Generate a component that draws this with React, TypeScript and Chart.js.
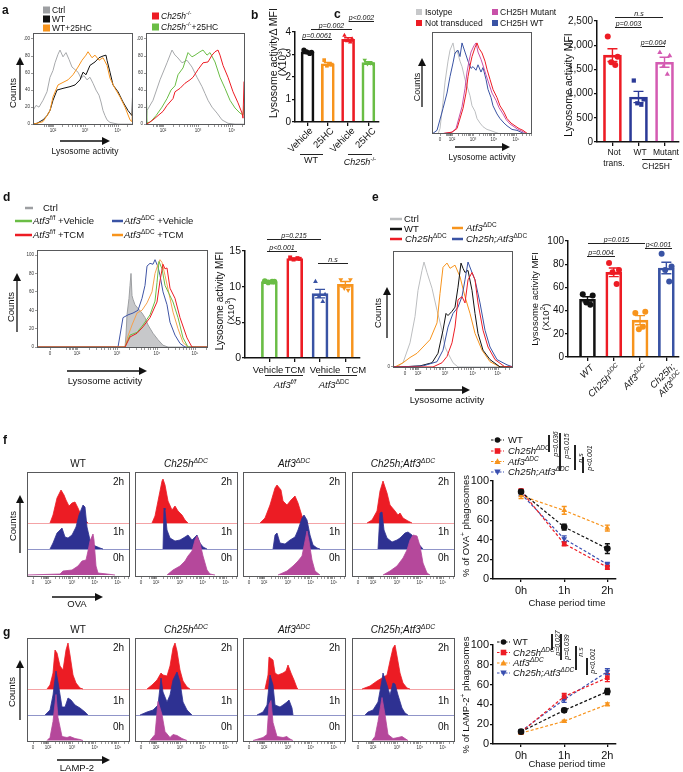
import React, { useEffect, useRef } from "react";
import { Chart, registerables } from "chart.js";

Chart.register(...registerables);

const FONT = '"Liberation Sans", Arial, Helvetica, sans-serif';

/* ======================= DATA ======================= */
// Panel a – histograms (channel, % of max)
const aL_ctrl_x = [0, 3, 6, 10, 14, 17, 20, 22, 25, 27, 30, 33, 36, 39, 42, 45, 48, 51, 54, 57, 60, 63, 66, 68, 70, 72, 74, 77, 85, 100];
const aL_ctrl_y = [16, 22, 20, 28, 38, 55, 63, 72, 82, 87, 79, 84, 76, 67, 64, 61, 54, 57, 52, 55, 48, 40, 34, 26, 16, 10, 5, 2, 0, 0];
const aL_wt_x = [0, 4, 10, 14, 17, 20, 24, 30, 37, 42, 47, 50, 53, 57, 62, 66, 70, 73, 74, 77, 80, 85, 90, 95, 99, 100];
const aL_wt_y = [0, 1, 5, 10, 16, 28, 40, 42, 44, 46, 52, 61, 58, 69, 73, 78, 80, 81, 75, 61, 46, 38, 26, 16, 10, 54];
const aL_hc_x = [0, 4, 10, 14, 17, 20, 25, 30, 35, 40, 45, 49, 53, 55, 59, 62, 66, 70, 74, 77, 82, 87, 92, 97, 99, 100];
const aL_hc_y = [0, 1, 3, 10, 16, 32, 46, 49, 52, 58, 67, 75, 81, 85, 78, 81, 75, 78, 69, 54, 42, 32, 20, 5, 3, 30];
const aR_ctrl_x = [0, 1, 7, 14, 21, 26, 29, 31, 36, 41, 46, 51, 56, 59, 62, 66, 71, 76, 82, 89, 99];
const aR_ctrl_y = [0, 16, 28, 52, 72, 87, 81, 79, 72, 75, 67, 55, 44, 36, 28, 20, 13, 5, 1, 0, 0];
const aR_ko_x = [0, 2, 7, 12, 17, 21, 27, 29, 34, 39, 44, 47, 52, 57, 62, 66, 69, 72, 74, 77, 82, 87, 92, 96, 97, 98];
const aR_ko_y = [0, 1, 5, 10, 15, 22, 30, 38, 42, 48, 52, 55, 64, 72, 73, 81, 85, 87, 81, 69, 55, 38, 25, 13, 7, 50];
const aR_kohc_x = [0, 1, 4, 10, 16, 21, 25, 29, 32, 37, 42, 46, 49, 54, 57, 61, 64, 69, 74, 79, 84, 89, 94, 97, 98];
const aR_kohc_y = [55, 2, 2, 10, 20, 30, 40, 45, 58, 66, 84, 79, 81, 85, 87, 81, 84, 73, 55, 42, 28, 19, 13, 11, 22];
const aL_ticks: [number, string][] = [[20, "10²"], [52, "10³"], [85, "10⁴"]];
const aR_ticks: [number, string][] = [[17, "10²"], [52, "10³"], [86, "10⁴"]];
const HIST_Y_TICKS = [0, 20, 40, 60, 80, 100];

// Panel b – MFI (x10^3)
const b_cats = ["Vehicle", "25HC", "Vehicle", "25HC"];
const b_wt_veh = [3.2, 3.1, 3.12, 3.05];
const b_wt_hc = [2.75, 2.55, 2.5, 2.55];
const b_ko_veh = [3.85, 3.7, 3.6, 3.55];
const b_ko_hc = [2.75, 2.6, 2.58, 2.62];
const b_yticks = [0, 1, 2, 3, 4];

// Panel c – histograms
const c_iso_x = [0, 6, 8, 11, 13, 16, 18, 21, 23, 25, 28, 30, 33, 35, 38, 40, 43, 45, 48, 51, 55, 58, 63, 68, 100];
const c_iso_y = [0, 0, 6, 35, 57, 80, 92, 100, 88, 92, 80, 74, 60, 53, 42, 31, 25, 17, 12, 8, 5, 4, 2, 0, 0];
const c_nt_x = [0, 8, 20, 25, 31, 34, 36, 38, 40, 43, 45, 47, 50, 53, 55, 58, 61, 65, 68, 72, 75, 79, 83, 87, 91, 96, 100];
const c_nt_y = [0, 0, 2, 6, 28, 45, 63, 75, 85, 95, 100, 94, 89, 80, 71, 60, 49, 40, 31, 24, 17, 12, 9, 6, 4, 0, 0];
const c_wt_x = [0, 5, 11, 15, 18, 21, 23, 26, 28, 30, 33, 36, 39, 41, 44, 46, 49, 51, 54, 56, 59, 61, 65, 68, 72, 75, 80, 85, 93, 100];
const c_wt_y = [0, 4, 28, 45, 63, 78, 89, 92, 85, 100, 90, 80, 72, 74, 70, 76, 68, 73, 60, 49, 40, 31, 22, 17, 12, 9, 5, 4, 0, 0];
const c_mut_x = [0, 8, 20, 24, 30, 33, 35, 37, 39, 42, 44, 46, 49, 52, 54, 57, 60, 64, 67, 71, 74, 78, 82, 86, 90, 95, 100];
const c_mut_y = [0, 0, 2, 6, 30, 50, 68, 80, 90, 97, 100, 90, 82, 72, 65, 55, 45, 37, 29, 22, 16, 11, 8, 5, 3, 0, 0];
const c_ticks: [number, string][] = [[8, "0"], [20, "10²"], [41, "10³"], [62, "10⁴"], [84, "10⁵"]];
// Panel c – MFI
const c_nt = [2180, 1760, 1650, 1590];
const c_wt = [1270, 880, 800, 770];
const c_mut = [1850, 1780, 1560, 1400];
const c_yticks = [0, 500, 1000, 1500, 2000, 2500];

// Panel d – histograms
const d_ctrl_x = [0, 88, 89, 90, 92, 93, 94, 95, 96, 98, 101, 105, 108, 111, 116, 121, 126, 131, 171];
const d_ctrl_y = [0, 0, 13, 35, 53, 67, 80, 56, 52, 46, 42, 37, 32, 24, 15, 8, 2, 0, 0];
const d_fv_x = [0, 88, 93, 100, 106, 113, 118, 120, 122, 125, 128, 132, 136, 141, 146, 151, 171];
const d_fv_y = [0, 0, 13, 16, 24, 35, 50, 70, 93, 85, 67, 58, 49, 32, 10, 0, 0];
const d_ft_x = [0, 88, 93, 100, 106, 113, 120, 123, 126, 128, 130, 133, 138, 143, 150, 155, 171];
const d_ft_y = [0, 0, 11, 15, 22, 32, 49, 72, 90, 85, 86, 64, 53, 32, 10, 0, 0];
const d_kv_x = [0, 81, 86, 91, 96, 101, 105, 108, 110, 113, 116, 118, 121, 123, 126, 130, 133, 138, 143, 148, 171];
const d_kv_y = [0, 0, 32, 35, 37, 40, 53, 67, 88, 91, 90, 95, 87, 78, 60, 46, 27, 13, 4, 0, 0];
const d_kt_x = [0, 88, 91, 95, 100, 105, 110, 115, 118, 121, 123, 125, 128, 133, 136, 141, 146, 151, 171];
const d_kt_y = [0, 0, 12, 24, 37, 40, 48, 60, 80, 90, 95, 92, 78, 53, 38, 20, 5, 0, 0];
const d_ticks: [number, string][] = [[13, "0"], [40, "10²"], [80, "10³"], [120, "10⁴"], [158, "10⁵"]];
// Panel d – MFI (x10^3)
const d_fv = [10.8, 10.7, 10.6, 10.7];
const d_ft = [14.1, 13.9, 13.8, 14.0];
const d_kv = [10.7, 8.9, 8.6, 7.9];
const d_kt = [11.0, 11.0, 9.8, 9.5];
const d_yticks = [0, 5, 10, 15];

// Panel e – histograms
const e_ctrl_x = [0, 4, 10, 17, 22, 25, 29, 31, 34, 39, 44, 49, 52, 55, 60, 65, 120];
const e_ctrl_y = [0, 0, 4, 23, 48, 73, 92, 100, 90, 75, 54, 35, 19, 13, 4, 0, 0];
const e_wt_x = [0, 7, 27, 39, 45, 50, 53, 55, 59, 62, 65, 68, 70, 72, 75, 79, 82, 85, 90, 97, 107, 120];
const e_wt_y = [0, 0, 1, 4, 13, 35, 51, 49, 53, 57, 76, 99, 94, 90, 92, 73, 51, 32, 16, 7, 0, 0];
const e_ko_x = [0, 40, 49, 54, 59, 62, 65, 69, 72, 75, 79, 82, 85, 90, 95, 102, 112, 120];
const e_ko_y = [0, 0, 4, 10, 23, 38, 64, 67, 61, 83, 90, 83, 61, 35, 19, 7, 0, 0];
const e_atf_x = [0, 2, 10, 17, 24, 30, 37, 44, 47, 50, 54, 57, 62, 67, 72, 77, 82, 89, 97, 107, 120];
const e_atf_y = [0, 0, 4, 9, 13, 19, 26, 42, 70, 95, 99, 94, 97, 86, 67, 51, 32, 16, 5, 0, 0];
const e_dko_x = [0, 7, 30, 44, 50, 55, 60, 65, 69, 72, 75, 79, 82, 87, 92, 97, 104, 114, 120];
const e_dko_y = [0, 0, 1, 5, 16, 38, 51, 57, 67, 83, 100, 90, 83, 61, 35, 19, 7, 2, 0];
const e_ticks: [number, string][] = [[12, "0"], [25, "10²"], [52, "10³"], [80, "10⁴"], [105, "10⁵"]];
// Panel e – MFI (x10^2)
const e_wt = [54, 53, 47, 45];
const e_ko = [81, 75, 73, 63];
const e_atf = [38, 39, 24, 26];
const e_dko = [89, 78, 75, 65];
const e_yticks = [0, 20, 40, 60, 80, 100];

// Panel f – OVA stacked histograms (channel, height)
const f_wt_2h_x = [23, 26, 30, 34, 37, 39, 42, 45, 48, 51, 54, 58, 61];
const f_wt_2h_y = [0, 8, 25, 33, 28, 23, 17, 20, 21, 15, 8, 3, 0];
const f_wt_1h_x = [23, 26, 30, 35, 38, 41, 45, 49, 52, 56, 58, 60, 63, 66, 73, 76];
const f_wt_1h_y = [0, 6, 16, 21, 12, 11, 14, 22, 34, 44, 42, 22, 9, 4, 1, 0];
const f_wt_0h_x = [0, 33, 36, 45, 51, 55, 59, 61, 63, 66, 67, 69, 71, 80, 88];
const f_wt_0h_y = [0, 1, 4, 5, 9, 14, 15, 24, 34, 41, 35, 9, 2, 1, 0];
const f_ch_2h_x = [17, 20, 24, 27, 28, 30, 33, 37, 40, 43, 47, 50, 53];
const f_ch_2h_y = [0, 7, 27, 42, 44, 38, 22, 13, 17, 12, 8, 3, 0];
const f_ch_1h_x = [28, 29, 30, 32, 35, 40, 45, 50, 53, 57, 60, 62, 65, 68, 72];
const f_ch_1h_y = [0, 41, 39, 19, 11, 8, 9, 12, 14, 9, 12, 14, 6, 2, 0];
const f_ch_0h_x = [32, 38, 45, 50, 53, 57, 60, 62, 65, 68, 72, 75, 80];
const f_ch_0h_y = [0, 5, 9, 14, 19, 24, 35, 39, 32, 19, 5, 1, 0];
const f_at_2h_x = [17, 22, 27, 32, 34, 38, 40, 44, 48, 52, 55, 59, 62, 65];
const f_at_2h_y = [0, 5, 18, 35, 38, 33, 22, 18, 23, 27, 20, 7, 2, 0];
const f_at_1h_x = [30, 32, 34, 37, 42, 47, 52, 55, 59, 61, 64, 67, 70, 74, 77];
const f_at_1h_y = [0, 14, 16, 6, 5, 9, 12, 19, 31, 34, 29, 14, 4, 1, 0];
const f_at_0h_x = [35, 44, 50, 55, 59, 61, 64, 66, 69, 72, 77];
const f_at_0h_y = [0, 4, 9, 14, 19, 29, 44, 34, 15, 4, 0];
const f_dk_2h_x = [15, 20, 25, 28, 31, 35, 38, 43, 46, 48, 51, 56, 60];
const f_dk_2h_y = [0, 3, 12, 32, 42, 30, 18, 12, 8, 10, 5, 2, 0];
const f_dk_1h_x = [26, 28, 30, 32, 35, 40, 45, 48, 53, 56, 60, 64, 71];
const f_dk_1h_y = [0, 36, 37, 19, 11, 7, 9, 11, 16, 17, 14, 8, 0];
const f_dk_0h_x = [31, 38, 45, 51, 55, 58, 61, 65, 68, 71, 75, 78];
const f_dk_0h_y = [0, 4, 9, 17, 25, 35, 40, 39, 29, 12, 2, 0];

// Panel g – LAMP-2 stacked histograms
const g_wt_2h_x = [20, 23, 26, 28, 30, 33, 36, 39, 41, 43, 46, 49, 53, 56];
const g_wt_2h_y = [0, 4, 16, 39, 36, 23, 19, 39, 46, 34, 14, 6, 1, 0];
const g_wt_1h_x = [18, 23, 26, 29, 31, 35, 38, 41, 44, 48, 53, 58, 61];
const g_wt_1h_y = [0, 5, 20, 44, 33, 8, 8, 17, 15, 10, 7, 3, 0];
const g_wt_0h_x = [20, 23, 26, 29, 31, 35, 40, 43, 48, 53, 56];
const g_wt_0h_y = [0, 3, 19, 46, 23, 4, 3, 4, 2, 1, 0];
const g_ch_2h_x = [12, 17, 22, 26, 28, 32, 35, 38, 40, 42, 45, 48, 52, 55];
const g_ch_2h_y = [0, 4, 9, 16, 14, 13, 23, 41, 46, 38, 19, 8, 2, 0];
const g_ch_1h_x = [5, 12, 18, 23, 26, 28, 32, 35, 38, 42, 45, 48, 52, 57];
const g_ch_1h_y = [0, 3, 5, 10, 37, 23, 13, 20, 35, 43, 33, 13, 5, 0];
const g_ch_0h_x = [15, 20, 23, 27, 30, 35, 38, 42, 47, 52];
const g_ch_0h_y = [0, 6, 39, 26, 9, 3, 6, 5, 2, 0];
const g_at_2h_x = [22, 25, 26, 30, 32, 35, 40, 43, 45, 48, 51, 54, 55];
const g_at_2h_y = [0, 14, 32, 29, 16, 14, 16, 18, 24, 16, 9, 1, 0];
const g_at_1h_x = [14, 20, 24, 27, 30, 32, 37, 40, 44, 46, 49, 50];
const g_at_1h_y = [0, 3, 10, 40, 30, 10, 8, 10, 13, 15, 7, 0];
const g_at_0h_x = [10, 20, 24, 26, 28, 30, 34, 40, 44, 46, 50];
const g_at_0h_y = [0, 3, 6, 36, 40, 18, 4, 3, 4, 2, 0];
const g_dk_2h_x = [10, 18, 25, 30, 35, 38, 41, 43, 45, 48, 51, 55, 58];
const g_dk_2h_y = [0, 3, 8, 11, 14, 28, 41, 44, 33, 16, 6, 1, 0];
const g_dk_1h_x = [13, 16, 21, 26, 30, 31, 35, 38, 41, 43, 46, 50, 53, 56];
const g_dk_1h_y = [0, 3, 5, 13, 35, 42, 30, 20, 32, 31, 20, 7, 2, 0];
const g_dk_0h_x = [20, 23, 26, 30, 33, 36, 41, 46, 50, 53, 56];
const g_dk_0h_y = [0, 4, 19, 43, 26, 6, 2, 3, 4, 2, 0];
const fg_ticks: [number, string][] = [[6, "0"], [21, "10²"], [45, "10³"], [68, "10⁴"], [91, "10⁵"]];

// Panels f/g – line charts
const CHASE = ["0h", "1h", "2h"];
const f_wt = [89, 53, 31];
const f_ch = [90, 36, 12];
const f_at = [85, 70, 52];
const f_dk = [87, 41, 15];
const f_wt_se = [2, 3, 5];
const f_ch_se = [2, 2, 2];
const f_at_se = [3, 4, 3];
const f_dk_se = [2, 3, 2];
const g_wt = [12.5, 34, 53];
const g_ch = [12, 48, 67];
const g_at = [11, 23, 40];
const g_dk = [13, 45, 73];
const g_wt_se = [1.5, 2, 3];
const g_ch_se = [1, 3, 4];
const g_at_se = [1, 1, 1.5];
const g_dk_se = [1, 3, 3];
const LINE_YTICKS = [0, 20, 40, 60, 80, 100];

/* ======================= HELPERS ======================= */
const mean = (a: number[]) => a.reduce((s, v) => s + v, 0) / a.length;
const sem = (a: number[]) => {
  const m = mean(a);
  return Math.sqrt(a.reduce((s, v) => s + (v - m) ** 2, 0) / (a.length - 1)) / Math.sqrt(a.length);
};
const JIT = [-0.2, 0.22, -0.05, 0.12];

const fixX = (h: number) => (s: any) => { s.height = h; s.paddingLeft = 0; s.paddingRight = 0; };
const fixY = (w: number) => (s: any) => { s.width = w; s.paddingTop = 0; s.paddingBottom = 0; };

function logMinors(maj: number[], xMax: number) {
  const out: number[] = [];
  const last = maj[maj.length - 1];
  const d = last - maj[maj.length - 2];
  const ext = [...maj, last + d];
  for (let i = 0; i < ext.length - 1; i++) {
    const w = ext[i + 1] - ext[i];
    for (let k = 2; k <= 9; k++) out.push(ext[i] + w * Math.log10(k));
  }
  if (ext[ext.length - 1] < xMax) out.push(ext[ext.length - 1]);
  const w0 = maj[1] - maj[0];
  for (let k = 3; k <= 9; k++) out.push(maj[0] - w0 * 0.5 * (1 - Math.log10(k)));
  return out.filter((v) => v > 0 && v < xMax);
}

const framePlugin = (color: string) => ({
  id: "frame",
  afterDatasetsDraw(chart: any) {
    const { ctx, chartArea: a } = chart;
    ctx.save();
    ctx.strokeStyle = color;
    ctx.lineWidth = 1;
    ctx.strokeRect(a.left + 0.5, a.top + 0.5, a.right - a.left - 1, a.bottom - a.top - 1);
    ctx.restore();
  },
});

const basePlugin = (lines: [number, string][]) => ({
  id: "bases",
  beforeDatasetsDraw(chart: any) {
    const { ctx, chartArea: a, scales } = chart;
    ctx.save();
    ctx.lineWidth = 1;
    lines.forEach(([v, c]) => {
      const py = Math.round(scales.y.getPixelForValue(v)) + 0.5;
      ctx.strokeStyle = c;
      ctx.beginPath();
      ctx.moveTo(a.left, py);
      ctx.lineTo(a.right, py);
      ctx.stroke();
    });
    ctx.restore();
  },
});

const errPlugin = (items: any[], cap: number) => ({
  id: "err",
  beforeDatasetsDraw(chart: any) {
    const { ctx, scales } = chart;
    ctx.save();
    ctx.lineWidth = 1.4;
    items.forEach((it) => {
      const px = scales.x.getPixelForValue(it.x);
      const a = scales.y.getPixelForValue(it.m + it.e);
      const b = scales.y.getPixelForValue(it.m - it.e);
      ctx.strokeStyle = it.c;
      ctx.beginPath();
      ctx.moveTo(px, a); ctx.lineTo(px, b);
      ctx.moveTo(px - cap, a); ctx.lineTo(px + cap, a);
      ctx.moveTo(px - cap, b); ctx.lineTo(px + cap, b);
      ctx.stroke();
    });
    ctx.restore();
  },
});

function histCfg(p: any) {
  const lbl = new Map<number, string>(p.majors);
  const logMaj = p.majors.filter((m: any) => m[1] !== "0").map((m: any) => m[0]);
  const xt = [...p.majors.map((m: any) => m[0]), ...logMinors(logMaj, p.xMax)];
  const tickGrid = { drawOnChartArea: false, drawTicks: true, tickLength: 2, color: "#555", lineWidth: 0.6 };
  const tickFont = { size: 4.5, family: FONT };
  return {
    type: "line",
    data: {
      datasets: p.series.map((s: any) => ({
        data: s.x.map((x: number, i: number) => ({ x, y: s.y[i] + (s.base || 0) })),
        borderColor: s.color,
        borderWidth: s.w ?? 1,
        pointRadius: 0,
        tension: 0,
        fill: s.fill ? { value: s.base || 0 } : false,
        backgroundColor: s.fill || "transparent",
      })),
    },
    options: {
      scales: {
        x: {
          type: "linear", min: 0, max: p.xMax,
          afterBuildTicks: (s: any) => { s.ticks = xt.map((v) => ({ value: v })); },
          ticks: { autoSkip: false, maxRotation: 0, minRotation: 0, padding: 1, color: "#333", font: tickFont, callback: (v: number) => lbl.get(v) ?? "" },
          grid: tickGrid, border: { display: false }, afterFit: fixX(p.xH),
        },
        y: {
          type: "linear", min: p.yMin, max: p.yMax, display: !!p.yTicks,
          afterBuildTicks: (s: any) => { s.ticks = (p.yTicks || [0]).map((v: number) => ({ value: v })); },
          ticks: { padding: 1, color: "#333", font: tickFont },
          grid: tickGrid, border: { display: false }, afterFit: fixY(p.yW),
        },
      },
    },
    plugins: [basePlugin(p.bases || []), framePlugin("#58595b")],
  };
}

function barCfg(p: any) {
  const means = p.pts.map(mean);
  const sems = p.pts.map(sem);
  const axisGrid = { drawOnChartArea: false, drawTicks: true, tickLength: 4, color: "#111", lineWidth: 1.3 };
  const ds: any[] = [{
    type: "bar",
    data: means.map((m: number, i: number) => ({ x: i, y: m })),
    backgroundColor: "rgba(255,255,255,0)",
    borderColor: p.colors,
    borderWidth: 2,
    barThickness: p.barW,
    borderSkipped: "bottom",
    order: 3,
  }];
  p.pts.forEach((g: number[], i: number) =>
    ds.push({
      type: "scatter",
      data: g.map((v, j) => ({ x: i + JIT[j] * p.spread, y: v })),
      pointStyle: p.shapes[i],
      rotation: p.rots[i],
      pointRadius: p.r,
      backgroundColor: p.colors[i],
      borderColor: p.colors[i],
      borderWidth: 0,
      order: 1,
    })
  );
  return {
    type: "bar",
    data: { datasets: ds },
    options: {
      scales: {
        x: {
          type: "linear", min: p.xMin, max: p.xMax, offset: false,
          afterBuildTicks: (s: any) => { s.ticks = p.pts.map((_: any, i: number) => ({ value: i })); },
          ticks: { callback: () => "", padding: 0, font: { size: 2 } },
          grid: { ...axisGrid, offset: false },
          border: { display: true, color: "#111", width: 1.5 },
          afterFit: fixX(p.xH),
        },
        y: {
          type: "linear", min: 0, max: p.yMax,
          afterBuildTicks: (s: any) => { s.ticks = p.yTicks.map((v: number) => ({ value: v })); },
          ticks: { padding: 1, color: "#111", font: { size: p.fs, family: FONT } },
          grid: { ...axisGrid, tickLength: 3 },
          border: { display: true, color: "#111", width: 1.5 },
          afterFit: fixY(p.yW),
        },
      },
    },
    plugins: [errPlugin(means.map((m: number, i: number) => ({ x: i, m, e: sems[i], c: p.colors[i] })), p.cap)],
  };
}

function lineCfg(series: any[], xH: number, yW: number) {
  const axisGrid = { drawOnChartArea: false, drawTicks: true, tickLength: 3, color: "#111", lineWidth: 1.3 };
  const font = { size: 11, family: FONT };
  return {
    type: "line",
    data: {
      datasets: series.map((s) => ({
        data: s.v.map((y: number, i: number) => ({ x: i, y })),
        borderColor: s.c, borderDash: [3, 2], borderWidth: 1.2,
        pointStyle: s.shape, rotation: s.rot, pointRadius: 3.3,
        pointBackgroundColor: s.c, pointBorderColor: s.c, pointBorderWidth: 0,
        tension: 0, fill: false,
      })),
    },
    options: {
      scales: {
        x: {
          type: "linear", min: -0.65, max: 2.2,
          afterBuildTicks: (s: any) => { s.ticks = CHASE.map((_, i) => ({ value: i })); },
          ticks: { autoSkip: false, maxRotation: 0, padding: 2, color: "#111", font, callback: (v: number) => CHASE[v] ?? "" },
          grid: axisGrid, border: { display: true, color: "#111", width: 1.5 }, afterFit: fixX(xH),
        },
        y: {
          type: "linear", min: 0, max: 100,
          afterBuildTicks: (s: any) => { s.ticks = LINE_YTICKS.map((v) => ({ value: v })); },
          ticks: { padding: 1, color: "#111", font },
          grid: axisGrid, border: { display: true, color: "#111", width: 1.5 }, afterFit: fixY(yW),
        },
      },
    },
    plugins: [errPlugin(series.flatMap((s) => s.v.map((m: number, i: number) => ({ x: i, m, e: s.se[i], c: s.c }))), 2.5)],
  };
}

function ChartCanvas({ f, yW = 0, xH = 0, pt = 0, pr = 0, cfg }: any) {
  const ref = useRef<HTMLCanvasElement>(null);
  const w = f.r - f.l + yW + pr;
  const h = f.b - f.t + pt + xH;
  useEffect(() => {
    const c: any = cfg();
    c.options = c.options || {};
    c.options.responsive = false;
    c.options.maintainAspectRatio = false;
    c.options.animation = false;
    c.options.devicePixelRatio = 1;
    c.options.events = [];
    c.options.layout = { padding: { top: pt, right: pr, left: 0, bottom: 0 } };
    c.options.plugins = { legend: { display: false }, tooltip: { enabled: false } };
    const chart = new Chart(ref.current as HTMLCanvasElement, c);
    return () => chart.destroy();
  }, []);
  return <canvas ref={ref} width={w} height={h} style={{ position: "absolute", left: f.l - yW, top: f.t - pt, width: w, height: h }} />;
}

const Sup = ({ children }: any) => (
  <sup style={{ fontSize: "0.68em", lineHeight: 0, verticalAlign: "super" }}>{children}</sup>
);

function Txt(props: any) {
  const { x, y, s = 10, a = "l", rot = 0, b = false, it = false, c = "#111", children } = props;
  const ax = a === "l" ? 0 : a === "c" ? 50 : 100;
  return (
    <div
      style={{
        position: "absolute", left: x, top: y, fontSize: s, fontFamily: FONT,
        fontWeight: b ? 700 : 400, fontStyle: it ? "italic" : "normal", color: c,
        whiteSpace: "nowrap", lineHeight: 1,
        transform: `translate(${-ax}%,-50%)${rot ? ` rotate(${rot}deg)` : ""}`,
        transformOrigin: `${ax}% 50%`,
      }}
    >
      {children}
    </div>
  );
}

function HLine({ x1, x2, y, w = 1, c = "#222" }: any) {
  return <div style={{ position: "absolute", left: x1, top: y - w / 2, width: x2 - x1, height: w, background: c }} />;
}
function VLine({ x, y1, y2, w = 1.2, c = "#222" }: any) {
  return <div style={{ position: "absolute", left: x - w / 2, top: y1, width: w, height: y2 - y1, background: c }} />;
}
function SigH({ x1, x2, y, t }: any) {
  return (
    <>
      <HLine x1={x1} x2={x2} y={y} />
      <Txt x={(x1 + x2) / 2} y={y - 4.5} a="c" s={7} it>{t}</Txt>
    </>
  );
}
function SigV({ x, y1, y2, tx, ty, t }: any) {
  return (
    <>
      <VLine x={x} y1={y1} y2={y2} w={1.4} />
      <Txt x={tx} y={ty} a="c" s={7} it rot={-90}>{t}</Txt>
    </>
  );
}

function Arrow({ x1, y1, x2, y2 }: any) {
  const dx = x2 - x1, dy = y2 - y1;
  const L = Math.hypot(dx, dy);
  const ux = dx / L, uy = dy / L;
  const hl = 8, hw = 4;
  const bx = x2 - ux * hl, by = y2 - uy * hl;
  const pts = `${x2},${y2} ${bx - uy * hw},${by + ux * hw} ${bx + uy * hw},${by - ux * hw}`;
  return (
    <g>
      <line x1={x1} y1={y1} x2={bx} y2={by} stroke="#111" strokeWidth={1.3} />
      <polygon points={pts} fill="#111" />
    </g>
  );
}

function Marker({ x, y, c, shape }: any) {
  if (shape === "circle") return <circle cx={x} cy={y} r={2.8} fill={c} />;
  if (shape === "rect") return <rect x={x - 2.8} y={y - 2.8} width={5.6} height={5.6} fill={c} />;
  if (shape === "tri") return <polygon points={`${x},${y - 3.2} ${x + 3.2},${y + 2.4} ${x - 3.2},${y + 2.4}`} fill={c} />;
  return <polygon points={`${x},${y + 3.2} ${x + 3.2},${y - 2.4} ${x - 3.2},${y - 2.4}`} fill={c} />;
}

/* ======================= COLOURS ======================= */
const GRAY = "#a7a9ac";
const BLACK = "#111111";
const ORANGE = "#f7941d";
const RED = "#ed1c24";
const GREEN = "#6abd45";
const BLUE = "#3953a4";
const MAG = "#c850a8";
const F_RED = "#ec1c24";
const F_BLUE = "#2e3192";
const F_MAG = "#b5489b";

const LINE_SERIES_STYLE = [
  { c: BLACK, shape: "circle", rot: 0, m: "circle" },
  { c: RED, shape: "rect", rot: 0, m: "rect" },
  { c: ORANGE, shape: "triangle", rot: 0, m: "tri" },
  { c: "#3a4fb0", shape: "triangle", rot: 180, m: "tridown" },
];

const FL = [27, 135, 243, 352];
const F_SETS = [
  [[f_wt_2h_x, f_wt_2h_y], [f_wt_1h_x, f_wt_1h_y], [f_wt_0h_x, f_wt_0h_y]],
  [[f_ch_2h_x, f_ch_2h_y], [f_ch_1h_x, f_ch_1h_y], [f_ch_0h_x, f_ch_0h_y]],
  [[f_at_2h_x, f_at_2h_y], [f_at_1h_x, f_at_1h_y], [f_at_0h_x, f_at_0h_y]],
  [[f_dk_2h_x, f_dk_2h_y], [f_dk_1h_x, f_dk_1h_y], [f_dk_0h_x, f_dk_0h_y]],
];
const G_SETS = [
  [[g_wt_2h_x, g_wt_2h_y], [g_wt_1h_x, g_wt_1h_y], [g_wt_0h_x, g_wt_0h_y]],
  [[g_ch_2h_x, g_ch_2h_y], [g_ch_1h_x, g_ch_1h_y], [g_ch_0h_x, g_ch_0h_y]],
  [[g_at_2h_x, g_at_2h_y], [g_at_1h_x, g_at_1h_y], [g_at_0h_x, g_at_0h_y]],
  [[g_dk_2h_x, g_dk_2h_y], [g_dk_1h_x, g_dk_1h_y], [g_dk_0h_x, g_dk_0h_y]],
];

function stackCfg(set: any[], bases: number[], yMax: number) {
  const cols = [F_RED, F_BLUE, F_MAG];
  const rows = [2, 1, 0].map((r) => ({ x: set[r][0], y: set[r][1], base: bases[r], color: cols[r], fill: cols[r], w: 0.8 }));
  return histCfg({
    series: rows, xMax: 103, yMin: 0, yMax, majors: fg_ticks, xH: 12, yW: 0,
    bases: [[bases[0], "#f4a3a6"], [bases[1], "#9095c9"]],
  });
}

const TITLES = [
  <>WT</>,
  <i>Ch25h<Sup>ΔDC</Sup></i>,
  <i>Atf3<Sup>ΔDC</Sup></i>,
  <i>Ch25h;Atf3<Sup>ΔDC</Sup></i>,
];
const LEG_LABELS = [
  <>WT</>,
  <i>Ch25h<Sup>ΔDC</Sup></i>,
  <i>Atf3<Sup>ΔDC</Sup></i>,
  <i>Ch25h;Atf3<Sup>ΔDC</Sup></i>,
];

/* ======================= APP ======================= */
export default function App() {
  const fLineSeries = [f_wt, f_ch, f_at, f_dk].map((v, i) => ({ v, se: [f_wt_se, f_ch_se, f_at_se, f_dk_se][i], ...LINE_SERIES_STYLE[i] }));
  const gLineSeries = [g_wt, g_ch, g_at, g_dk].map((v, i) => ({ v, se: [g_wt_se, g_ch_se, g_at_se, g_dk_se][i], ...LINE_SERIES_STYLE[i] }));

  return (
    <div style={{ position: "absolute", left: 0, top: 0, width: 683, height: 772, background: "#fff", overflow: "hidden", fontFamily: FONT }}>
      {/* ---------- a ---------- */}
      <ChartCanvas f={{ l: 33, t: 33, r: 133, b: 125 }} yW={9} xH={12} pt={3} cfg={() => histCfg({
        series: [
          { x: aL_hc_x, y: aL_hc_y, color: ORANGE },
          { x: aL_wt_x, y: aL_wt_y, color: BLACK },
          { x: aL_ctrl_x, y: aL_ctrl_y, color: GRAY },
        ], xMax: 100, yMin: -1, yMax: 107, majors: aL_ticks, yTicks: HIST_Y_TICKS, xH: 12, yW: 9,
      })} />
      <ChartCanvas f={{ l: 146, t: 33, r: 245, b: 125 }} yW={9} xH={12} pt={3} cfg={() => histCfg({
        series: [
          { x: aR_ko_x, y: aR_ko_y, color: RED },
          { x: aR_kohc_x, y: aR_kohc_y, color: GREEN },
          { x: aR_ctrl_x, y: aR_ctrl_y, color: GRAY },
        ], xMax: 99, yMin: -1, yMax: 107, majors: aR_ticks, yTicks: HIST_Y_TICKS, xH: 12, yW: 9,
      })} />

      {/* ---------- b ---------- */}
      <ChartCanvas f={{ l: 295, t: 32, r: 382, b: 122 }} yW={22} xH={6} pt={6} pr={1} cfg={() => barCfg({
        pts: [b_wt_veh, b_wt_hc, b_ko_veh, b_ko_hc], colors: [BLACK, ORANGE, RED, GREEN],
        shapes: ["circle", "rect", "triangle", "triangle"], rots: [0, 0, 0, 180], r: 2.6, spread: 0.9,
        yMax: 4, yTicks: b_yticks, xMin: -0.619, xMax: 3.524, barW: 13, yW: 22, xH: 6, fs: 10, cap: 4,
      })} />

      {/* ---------- c ---------- */}
      <ChartCanvas f={{ l: 432, t: 32, r: 532, b: 134 }} yW={0} xH={12} pt={1} cfg={() => histCfg({
        series: [
          { x: c_nt_x, y: c_nt_y, color: RED },
          { x: c_mut_x, y: c_mut_y, color: MAG },
          { x: c_wt_x, y: c_wt_y, color: BLUE },
          { x: c_iso_x, y: c_iso_y, color: "#bcbec0" },
        ], xMax: 100, yMin: 0, yMax: 112, majors: c_ticks, xH: 12, yW: 0,
      })} />
      <ChartCanvas f={{ l: 597, t: 21, r: 682, b: 142 }} yW={32} xH={6} pt={6} pr={1} cfg={() => barCfg({
        pts: [c_nt, c_wt, c_mut], colors: [RED, "#2b3a97", "#d45bb2"],
        shapes: ["circle", "rect", "triangle"], rots: [0, 0, 0], r: 3, spread: 0.9,
        yMax: 2500, yTicks: c_yticks, xMin: -0.593, xMax: 2.556, barW: 18, yW: 32, xH: 6, fs: 10, cap: 5,
      })} />

      {/* ---------- d ---------- */}
      <ChartCanvas f={{ l: 37, t: 250, r: 208, b: 348 }} yW={11} xH={12} pt={3} cfg={() => histCfg({
        series: [
          { x: d_ft_x, y: d_ft_y, color: RED },
          { x: d_fv_x, y: d_fv_y, color: GREEN },
          { x: d_kt_x, y: d_kt_y, color: "#f6a04d" },
          { x: d_kv_x, y: d_kv_y, color: "#3f54a5" },
          { x: d_ctrl_x, y: d_ctrl_y, color: "#9d9fa2", fill: "#c7c8ca" },
        ], xMax: 171, yMin: -1, yMax: 105.5, majors: d_ticks, yTicks: HIST_Y_TICKS, xH: 12, yW: 11,
      })} />
      <ChartCanvas f={{ l: 245, t: 251, r: 363, b: 358 }} yW={20} xH={6} pt={6} pr={1} cfg={() => barCfg({
        pts: [d_fv, d_ft, d_kv, d_kt], colors: [GREEN, RED, BLUE, ORANGE],
        shapes: ["circle", "rect", "triangle", "triangle"], rots: [0, 0, 0, 180], r: 2.8, spread: 0.9,
        yMax: 15, yTicks: d_yticks, xMin: -0.962, xMax: 3.577, barW: 16, yW: 20, xH: 6, fs: 10.5, cap: 5,
      })} />

      {/* ---------- e ---------- */}
      <ChartCanvas f={{ l: 393, t: 251, r: 513, b: 368 }} yW={8} xH={12} pt={2} cfg={() => histCfg({
        series: [
          { x: e_ko_x, y: e_ko_y, color: RED },
          { x: e_dko_x, y: e_dko_y, color: BLUE },
          { x: e_wt_x, y: e_wt_y, color: BLACK },
          { x: e_atf_x, y: e_atf_y, color: ORANGE },
          { x: e_ctrl_x, y: e_ctrl_y, color: "#bcbec0" },
        ], xMax: 120, yMin: -1, yMax: 110.5, majors: e_ticks, yTicks: [0], xH: 12, yW: 8,
      })} />
      <ChartCanvas f={{ l: 568, t: 241, r: 682, b: 357 }} yW={26} xH={6} pt={6} pr={1} cfg={() => barCfg({
        pts: [e_wt, e_ko, e_atf, e_dko], colors: [BLACK, RED, ORANGE, BLUE],
        shapes: ["circle", "circle", "circle", "circle"], rots: [0, 0, 0, 0], r: 3, spread: 0.9,
        yMax: 100, yTicks: e_yticks, xMin: -0.741, xMax: 3.481, barW: 16, yW: 26, xH: 6, fs: 10, cap: 5,
      })} />

      {/* ---------- f & g histogram stacks ---------- */}
      {FL.map((l, i) => (
        <ChartCanvas key={"f" + i} f={{ l, t: 472, r: l + 103, b: 577 }} yW={0} xH={12} cfg={() => stackCfg(F_SETS[i], [54, 28, 2], 105)} />
      ))}
      {FL.map((l, i) => (
        <ChartCanvas key={"g" + i} f={{ l, t: 638, r: l + 103, b: 742 }} yW={0} xH={12} cfg={() => stackCfg(G_SETS[i], [53, 27, 1.5], 104)} />
      ))}

      {/* ---------- f & g line charts ---------- */}
      <ChartCanvas f={{ l: 493, t: 481, r: 620, b: 579 }} yW={28} xH={16} pt={6} cfg={() => lineCfg(fLineSeries, 16, 28)} />
      <ChartCanvas f={{ l: 493, t: 645, r: 620, b: 744 }} yW={28} xH={16} pt={6} cfg={() => lineCfg(gLineSeries, 16, 28)} />

      {/* ---------- SVG decorations ---------- */}
      <svg width={683} height={772} style={{ position: "absolute", left: 0, top: 0, pointerEvents: "none" }}>
        {[[20, 100, 20, 57], [60, 141, 110, 141], [422, 107, 422, 58], [455, 147, 510, 147], [17, 332, 17, 273], [67, 371, 147, 371],
          [387, 338, 387, 287], [415, 390, 470, 390], [20, 553, 20, 495], [52, 597, 103, 597], [20, 720, 20, 660], [57, 760, 110, 760]].map((a, i) => (
          <Arrow key={i} x1={a[0]} y1={a[1]} x2={a[2]} y2={a[3]} />
        ))}
        {/* a legends */}
        <rect x={43} y={6.5} width={7} height={7} fill="#9d9fa2" />
        <rect x={43} y={15.5} width={7} height={7} fill={BLACK} />
        <rect x={43} y={24.5} width={7} height={7} fill={ORANGE} />
        <rect x={152} y={12.5} width={7} height={7} fill={RED} />
        <rect x={152} y={23.5} width={7} height={7} fill={GREEN} />
        {/* c legend */}
        <rect x={416} y={9} width={6} height={6} fill="#c7c8ca" />
        <rect x={416} y={20} width={6} height={6} fill={RED} />
        <rect x={492} y={9} width={6} height={6} fill={MAG} />
        <rect x={492} y={20} width={6} height={6} fill={BLUE} />
        {/* d legend */}
        <line x1={25} x2={33} y1={208} y2={208} stroke="#9d9fa2" strokeWidth={2.5} />
        <line x1={15} x2={32} y1={221} y2={221} stroke={GREEN} strokeWidth={2.5} />
        <line x1={15} x2={32} y1={235} y2={235} stroke={RED} strokeWidth={2.5} />
        <line x1={112} x2={123} y1={221} y2={221} stroke={BLUE} strokeWidth={2.5} />
        <line x1={112} x2={123} y1={235} y2={235} stroke={ORANGE} strokeWidth={2.5} />
        {/* e legend */}
        <line x1={390} x2={402} y1={219} y2={219} stroke="#bcbec0" strokeWidth={2.5} />
        <line x1={390} x2={402} y1={229} y2={229} stroke={BLACK} strokeWidth={2.5} />
        <line x1={390} x2={402} y1={239} y2={239} stroke={RED} strokeWidth={2.5} />
        <line x1={452} x2={463} y1={228} y2={228} stroke={ORANGE} strokeWidth={2.5} />
        <line x1={452} x2={463} y1={239} y2={239} stroke={BLUE} strokeWidth={2.5} />
        {/* f & g legends */}
        {[440, 451, 461.5, 472].map((y, i) => (
          <g key={"fl" + i}>
            <line x1={491} x2={504} y1={y} y2={y} stroke={LINE_SERIES_STYLE[i].c} strokeWidth={1.2} strokeDasharray="2.5 1.5" />
            <Marker x={497.5} y={y} c={LINE_SERIES_STYLE[i].c} shape={LINE_SERIES_STYLE[i].m} />
          </g>
        ))}
        {[642, 652.5, 663, 673].map((y, i) => (
          <g key={"gl" + i}>
            <line x1={497} x2={510} y1={y} y2={y} stroke={LINE_SERIES_STYLE[i].c} strokeWidth={1.2} strokeDasharray="2.5 1.5" />
            <Marker x={503.5} y={y} c={LINE_SERIES_STYLE[i].c} shape={LINE_SERIES_STYLE[i].m} />
          </g>
        ))}
      </svg>

      {/* ---------- TEXT: a ---------- */}
      <Txt x={2} y={10} s={12} b>a</Txt>
      <Txt x={52} y={10} s={8.5}>Ctrl</Txt>
      <Txt x={52} y={19} s={8.5}>WT</Txt>
      <Txt x={52} y={28} s={8.5}>WT+25HC</Txt>
      <Txt x={161} y={16} s={8.5}><i>Ch25h</i><Sup>-/-</Sup></Txt>
      <Txt x={161} y={27} s={8.5}><i>Ch25h</i><Sup>-/-</Sup>+25HC</Txt>
      <Txt x={13} y={93} a="c" rot={-90} s={9.5}>Counts</Txt>
      <Txt x={85} y={151} a="c" s={8.5}>Lysosome activity</Txt>

      {/* ---------- TEXT: b ---------- */}
      <Txt x={251} y={15} s={12} b>b</Txt>
      <Txt x={273} y={63} a="c" rot={-90} s={10.5}>Lysosome activityΔ MFI</Txt>
      <Txt x={283} y={62} a="c" rot={-90} s={10}>(X10<Sup>3</Sup>)</Txt>
      {b_cats.map((t, i) => (
        <Txt key={"bc" + i} x={311 + i * 21} y={129} a="r" rot={-45} s={9.5}>{t}</Txt>
      ))}
      <HLine x1={300} x2={323} y={154} />
      <Txt x={311} y={160} a="c" s={9}>WT</Txt>
      <HLine x1={348} x2={372} y={154} />
      <Txt x={360} y={162} a="c" s={9}><i>Ch25h</i><Sup>-/-</Sup></Txt>
      <SigH x1={302} x2={332} y={39} t="p=0.0061" />
      <SigH x1={311} x2={352} y={29} t="p=0.002" />
      <SigH x1={349} x2={374} y={21} t="p<0.002" />

      {/* ---------- TEXT: c ---------- */}
      <Txt x={334} y={14} s={12} b>c</Txt>
      <Txt x={425} y={12} s={8.5}>Isotype</Txt>
      <Txt x={425} y={23} s={8.5}>Not transduced</Txt>
      <Txt x={500} y={12} s={8.5}>CH25H Mutant</Txt>
      <Txt x={500} y={23} s={8.5}>CH25H WT</Txt>
      <Txt x={417} y={87} a="c" rot={-90} s={9}>Counts</Txt>
      <Txt x={482} y={157} a="c" s={8.5}>Lysosome activity</Txt>
      <Txt x={568} y={85} a="c" rot={-90} s={10.5}>Lysosome activity MFI</Txt>
      <Txt x={614} y={152} a="c" s={8.5}>Not</Txt>
      <Txt x={614} y={163} a="c" s={8.5}>trans.</Txt>
      <Txt x={640} y={152} a="c" s={8.5}>WT</Txt>
      <Txt x={666} y={152} a="c" s={8.5}>Mutant</Txt>
      <HLine x1={642} x2={672} y={159} />
      <Txt x={656} y={166} a="c" s={8.5}>CH25H</Txt>
      <SigH x1={615} x2={663} y={17} t="n.s" />
      <SigH x1={615} x2={642} y={27} t="p=0.003" />
      <SigH x1={642} x2={665} y={46} t="p=0.004" />

      {/* ---------- TEXT: d ---------- */}
      <Txt x={3} y={197} s={12} b>d</Txt>
      <Txt x={43} y={208} s={9.5}>Ctrl</Txt>
      <Txt x={33} y={221} s={9.5}><i>Atf3</i><Sup>f/f</Sup> +Vehicle</Txt>
      <Txt x={33} y={235} s={9.5}><i>Atf3</i><Sup>f/f</Sup> +TCM</Txt>
      <Txt x={124} y={221} s={9.5}><i>Atf3</i><Sup>ΔDC</Sup> +Vehicle</Txt>
      <Txt x={124} y={235} s={9.5}><i>Atf3</i><Sup>ΔDC</Sup> +TCM</Txt>
      <Txt x={11} y={307} a="c" rot={-90} s={9.5}>Counts</Txt>
      <Txt x={105} y={381} a="c" s={9.5}>Lysosome activity</Txt>
      <Txt x={220} y={301} a="c" rot={-90} s={10}>Lysosome activity MFI</Txt>
      <Txt x={231} y={311} a="c" rot={-90} s={9.5}>(X10<Sup>3</Sup>)</Txt>
      <Txt x={268} y={370} a="c" s={9.5}>Vehicle</Txt>
      <Txt x={295} y={370} a="c" s={9.5}>TCM</Txt>
      <Txt x={325} y={370} a="c" s={9.5}>Vehicle</Txt>
      <Txt x={356} y={370} a="c" s={9.5}>TCM</Txt>
      <HLine x1={265} x2={303} y={375.5} />
      <HLine x1={318} x2={357} y={375.5} />
      <Txt x={285} y={385} a="c" s={9.5}><i>Atf3</i><Sup><i>f/f</i></Sup></Txt>
      <Txt x={334} y={385} a="c" s={9.5}><i>Atf3</i><Sup>ΔDC</Sup></Txt>
      <SigH x1={267} x2={321} y={239} t="p=0.215" />
      <SigH x1={267} x2={297} y={251} t="p<0.001" />
      <SigH x1={318} x2={348} y={263} t="n.s" />

      {/* ---------- TEXT: e ---------- */}
      <Txt x={372} y={197} s={12} b>e</Txt>
      <Txt x={404} y={219} s={9.5}>Ctrl</Txt>
      <Txt x={404} y={229} s={9.5}>WT</Txt>
      <Txt x={405} y={239} s={9.5}><i>Ch25h</i><Sup>ΔDC</Sup></Txt>
      <Txt x={466} y={228} s={9.5}><i>Atf3</i><Sup>ΔDC</Sup></Txt>
      <Txt x={466} y={239} s={9.5}><i>Ch25h;Atf3</i><Sup>ΔDC</Sup></Txt>
      <Txt x={378} y={313} a="c" rot={-90} s={9.5}>Counts</Txt>
      <Txt x={447} y={400} a="c" s={9.5}>Lysosome activity</Txt>
      <Txt x={535} y={299} a="c" rot={-90} s={9.5}>Lysosome activity MFI</Txt>
      <Txt x={546} y={317} a="c" rot={-90} s={9.5}>(X10<Sup>2</Sup>)</Txt>
      <Txt x={592} y={366} a="r" rot={-45} s={9.5} it>WT</Txt>
      <Txt x={619} y={366} a="r" rot={-45} s={9.5} it>Ch25h<Sup>ΔDC</Sup></Txt>
      <Txt x={646} y={366} a="r" rot={-45} s={9.5} it>Atf3<Sup>ΔDC</Sup></Txt>
      <Txt x={673} y={365} a="r" rot={-45} s={9.5} it>Ch25h;</Txt>
      <Txt x={681} y={373} a="r" rot={-45} s={9.5} it>Atf3<Sup>ΔDC</Sup></Txt>
      <SigH x1={588} x2={645} y={243} t="p=0.015" />
      <SigH x1={645} x2={672} y={248} t="p<0.001" />
      <SigH x1={587} x2={615} y={256} t="p=0.004" />

      {/* ---------- TEXT: f ---------- */}
      <Txt x={3} y={440} s={12} b>f</Txt>
      {FL.map((l, i) => (
        <React.Fragment key={"ft" + i}>
          <Txt x={l + 51} y={464} a="c" s={10}>{TITLES[i]}</Txt>
          <Txt x={l + 97} y={482} a="r" s={10}>2h</Txt>
          <Txt x={l + 97} y={532} a="r" s={10}>1h</Txt>
          <Txt x={l + 97} y={558} a="r" s={10}>0h</Txt>
        </React.Fragment>
      ))}
      <Txt x={13} y={526} a="c" rot={-90} s={9.5}>Counts</Txt>
      <Txt x={77} y={604} a="c" s={9.5}>OVA</Txt>
      <Txt x={466} y={526} a="c" rot={-90} s={9.5}>% of OVA<Sup>+</Sup> phagosomes</Txt>
      {[440, 451, 461.5, 472].map((y, i) => (
        <Txt key={"flt" + i} x={508} y={y} s={9.5}>{LEG_LABELS[i]}</Txt>
      ))}
      <SigV x={549} y1={435} y2={452} tx={555} ty={444} t="p=0.036" />
      <SigV x={560} y1={433} y2={471} tx={566} ty={446} t="p=0.015" />
      <SigV x={575} y1={445} y2={470} tx={580} ty={458} t="n.s" />
      <SigV x={583} y1={457} y2={473} tx={589} ty={458} t="p<0.001" />
      <Txt x={567} y={603} a="c" s={9.5}>Chase period time</Txt>

      {/* ---------- TEXT: g ---------- */}
      <Txt x={3} y={632} s={12} b>g</Txt>
      {FL.map((l, i) => (
        <React.Fragment key={"gt" + i}>
          <Txt x={l + 51} y={630} a="c" s={10}>{TITLES[i]}</Txt>
          <Txt x={l + 97} y={648} a="r" s={10}>2h</Txt>
          <Txt x={l + 97} y={701} a="r" s={10}>1h</Txt>
          <Txt x={l + 97} y={727} a="r" s={10}>0h</Txt>
        </React.Fragment>
      ))}
      <Txt x={12} y={692} a="c" rot={-90} s={9.5}>Counts</Txt>
      <Txt x={77} y={768} a="c" s={9.5}>LAMP-2</Txt>
      <Txt x={466} y={695} a="c" rot={-90} s={9.5}>% of LAMP-2<Sup>+</Sup> phagosomes</Txt>
      {[642, 652.5, 663, 673].map((y, i) => (
        <Txt key={"glt" + i} x={513} y={y} s={9.5}>{LEG_LABELS[i]}</Txt>
      ))}
      <SigV x={552} y1={634} y2={650} tx={557} ty={643} t="p=0.027" />
      <SigV x={561} y1={634} y2={660} tx={566} ty={647} t="p=0.039" />
      <SigV x={576} y1={646} y2={670} tx={580} ty={652} t="n.s" />
      <SigV x={587} y1={658} y2={675} tx={592} ty={661} t="p<0.001" />
      <Txt x={567} y={764} a="c" s={9.5}>Chase period time</Txt>
    </div>
  );
}
